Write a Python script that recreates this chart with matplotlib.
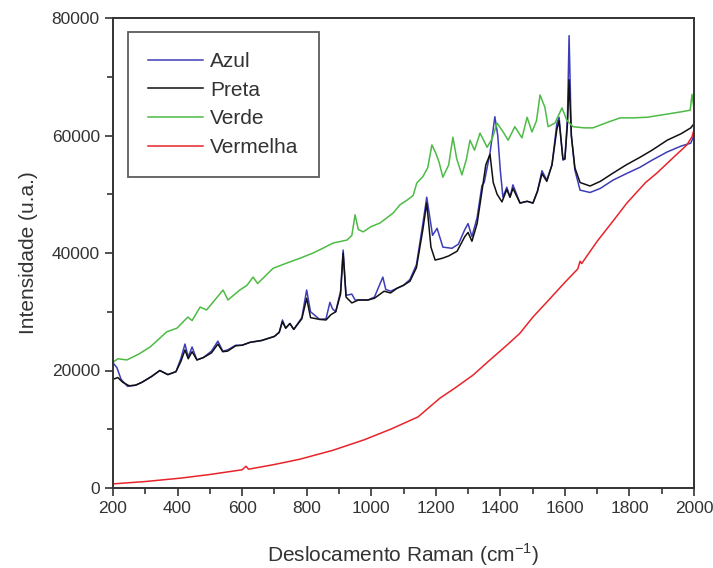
import matplotlib
matplotlib.use("Agg")
import matplotlib.pyplot as plt
from matplotlib.ticker import MultipleLocator

plt.rcParams['font.family'] = ['Liberation Sans', 'DejaVu Sans']

# ---- data ----
preta_x = [200, 215, 230, 250, 270, 290, 320, 345, 370, 395, 410, 423, 433, 445, 460, 480,
           505, 525, 540, 555, 580, 600, 625, 660, 700, 715, 725, 735, 748, 760, 785, 800,
           812, 840, 860, 875, 890, 905, 913, 922, 940, 960, 990, 1010, 1040, 1060, 1080,
           1100, 1120, 1140, 1160, 1172, 1185, 1198, 1220, 1240, 1266, 1290, 1300, 1312,
           1328, 1343, 1355, 1368, 1378, 1390, 1405, 1420, 1430, 1439, 1461, 1483, 1501,
           1515, 1529, 1544, 1560, 1575, 1582, 1594, 1600, 1608, 1613, 1620, 1631, 1647,
           1678, 1710, 1749, 1790, 1833, 1870, 1917, 1960, 1990, 2000]
preta_y = [18500, 18800, 18000, 17400, 17500, 18000, 19000, 20000, 19300, 19800, 21500, 23500,
           22000, 23200, 21800, 22200, 23000, 24500, 23200, 23300, 24200, 24300, 24800, 25100,
           25800, 26500, 28300, 27200, 28000, 27000, 28800, 32300, 29000, 28700, 28600, 29500,
           30000, 33000, 40000, 32500, 31500, 32000, 32000, 32300, 33500, 33200, 34000, 34500,
           35200, 37500, 44000, 48500, 41000, 38800, 39100, 39500, 40300, 42800, 43500, 42000,
           45000, 50500, 55000, 56800, 52000, 50000, 48700, 50800, 49500, 51000, 48500, 48800,
           48500, 50500, 53500, 52200, 55000, 61000, 62500, 56000, 56000, 62000, 69500, 60000,
           54500, 52000, 51400, 52200, 53600, 55000, 56300, 57500, 59200, 60300, 61300, 62000]

azul_x = [200, 212, 225, 245, 270, 290, 320, 345, 370, 395, 410, 423, 433, 445, 460, 480,
          505, 525, 540, 555, 580, 600, 625, 660, 700, 715, 725, 735, 748, 760, 785, 800,
          812, 840, 860, 872, 880, 890, 905, 913, 922, 940, 950, 960, 990, 1010, 1036, 1045,
          1060, 1080, 1100, 1120, 1140, 1160, 1172, 1190, 1204, 1222, 1250, 1270, 1290, 1300,
          1312, 1328, 1343, 1350, 1368, 1383, 1392, 1400, 1408, 1420, 1430, 1439, 1461, 1483,
          1501, 1515, 1529, 1544, 1560, 1575, 1582, 1594, 1600, 1608, 1613, 1620, 1631, 1647,
          1678, 1710, 1749, 1790, 1833, 1870, 1917, 1960, 1990, 2000]
azul_y = [21300, 20500, 18500, 17300, 17500, 18000, 19000, 20000, 19300, 19800, 22000, 24500,
          22300, 24000, 21800, 22200, 23300, 25000, 23300, 23500, 24300, 24300, 24800, 25100,
          25800, 26500, 28600, 27200, 28000, 27000, 29000, 33700, 30000, 28700, 28800, 31600,
          30500, 30000, 33500, 40500, 32800, 33000, 32000, 32000, 32000, 32500, 35900, 33800,
          33500, 34000, 34500, 35500, 38000, 45000, 49500, 43000, 44200, 41000, 40800, 41500,
          44000, 45000, 42800, 46000, 51500, 52000, 57000, 63200, 60000, 54000, 49500, 51200,
          49500, 51600, 48500, 48800, 48500, 50500, 54000, 52400, 55000, 62000, 63100, 55800,
          56000, 63000, 77000, 60000, 54100, 50700, 50300, 51000, 52400, 53500, 54600, 55800,
          57200, 58200, 58700, 60000]

verde_x = [200, 215, 243, 280, 315, 345, 367, 398, 432, 445, 470, 490, 520, 541, 556, 593,
           615, 634, 648, 696, 739, 779, 820, 850, 882, 925, 940, 950, 960, 975, 1000, 1027,
           1068, 1089, 1111, 1130, 1141, 1160, 1175, 1188, 1200, 1210, 1222, 1240, 1253,
           1265, 1281, 1295, 1306, 1320, 1337, 1350, 1359, 1375, 1390, 1410, 1424, 1445,
           1467, 1483, 1498, 1512, 1523, 1538, 1548, 1569, 1591, 1606, 1625, 1660, 1687,
           1730, 1771, 1810, 1854, 1900, 1957, 1988, 1994, 2000]
verde_y = [21400, 22000, 21800, 22800, 24000, 25500, 26600, 27200, 29100, 28500, 30800, 30300,
           32300, 33700, 32000, 33700, 34500, 35900, 34800, 37400, 38300, 39100, 40000, 40800,
           41700, 42200, 43000, 46500, 44000, 43600, 44500, 45100, 46800, 48200, 49000, 49800,
           51900, 53000, 54500, 58400, 57000, 55500, 52900, 55000, 59700, 56000, 53300, 56000,
           59200, 57500, 60400, 59000, 58000, 59500, 62100, 60500, 59200, 61500, 59600, 63100,
           60600, 62500, 66900, 64800, 61500, 62100, 64700, 62600, 61500, 61300, 61300, 62200,
           63000, 63000, 63100, 63500, 64000, 64300, 67000, 64500]

vermelha_x = [200, 300, 413, 500, 600, 612, 620, 700, 779, 880, 978, 1060, 1145, 1213, 1259,
              1315, 1368, 1420, 1460, 1501, 1550, 1600, 1640, 1647, 1652, 1700, 1750, 1792,
              1850, 1885, 1935, 1978, 1994, 2000]
vermelha_y = [700, 1100, 1700, 2300, 3100, 3700, 3200, 4000, 4900, 6400, 8200, 10000, 12100,
              15300, 17000, 19200, 21800, 24300, 26300, 29100, 32000, 35000, 37300, 38600,
              38200, 42000, 45500, 48500, 52000, 53600, 56200, 58400, 59800, 61000]

# ---- figure ----
fig = plt.figure(figsize=(7.13, 5.68), dpi=100)
ax = fig.add_axes([113/713, 1-488/568, 581/713, 470/568])

ax.plot(azul_x, azul_y, color='#3d3db8', lw=1.1, label='Azul')
ax.plot(preta_x, preta_y, color='#111111', lw=1.1, label='Preta')
ax.plot(verde_x, verde_y, color='#4dbb45', lw=1.1, label='Verde')
ax.plot(vermelha_x, vermelha_y, color='#e8242a', lw=1.1, label='Vermelha')

ax.set_xlim(200, 2000)
ax.set_ylim(0, 80000)
ax.xaxis.set_major_locator(MultipleLocator(200))
ax.xaxis.set_minor_locator(MultipleLocator(100))
ax.yaxis.set_major_locator(MultipleLocator(20000))
ax.yaxis.set_minor_locator(MultipleLocator(10000))
ax.tick_params(which='both', direction='out', top=False, right=False,
               labelsize=12.5, colors='#333333', width=1.2)
ax.tick_params(which='major', length=6)
ax.tick_params(which='minor', length=4)
for s in ax.spines.values():
    s.set_linewidth(1.4)
    s.set_color('#333333')

ax.set_xlabel('Deslocamento Raman (cm$^{\\mathregular{-1}}$)', fontsize=15, color='#333333', labelpad=18)
ax.set_ylabel('Intensidade (u.a.)', fontsize=15, color='#333333', labelpad=10)

leg = ax.legend(loc='upper left', bbox_to_anchor=(0.026, 0.970), fontsize=15,
                handlelength=2.65, handletextpad=0.35, labelspacing=0.47,
                fancybox=False, frameon=True, borderpad=0.95, borderaxespad=0)
leg.get_frame().set_edgecolor('#333333')
leg.get_frame().set_linewidth(1.3)
for t in leg.get_texts():
    t.set_color('#333333')

fig.savefig('out.png', dpi=100)
